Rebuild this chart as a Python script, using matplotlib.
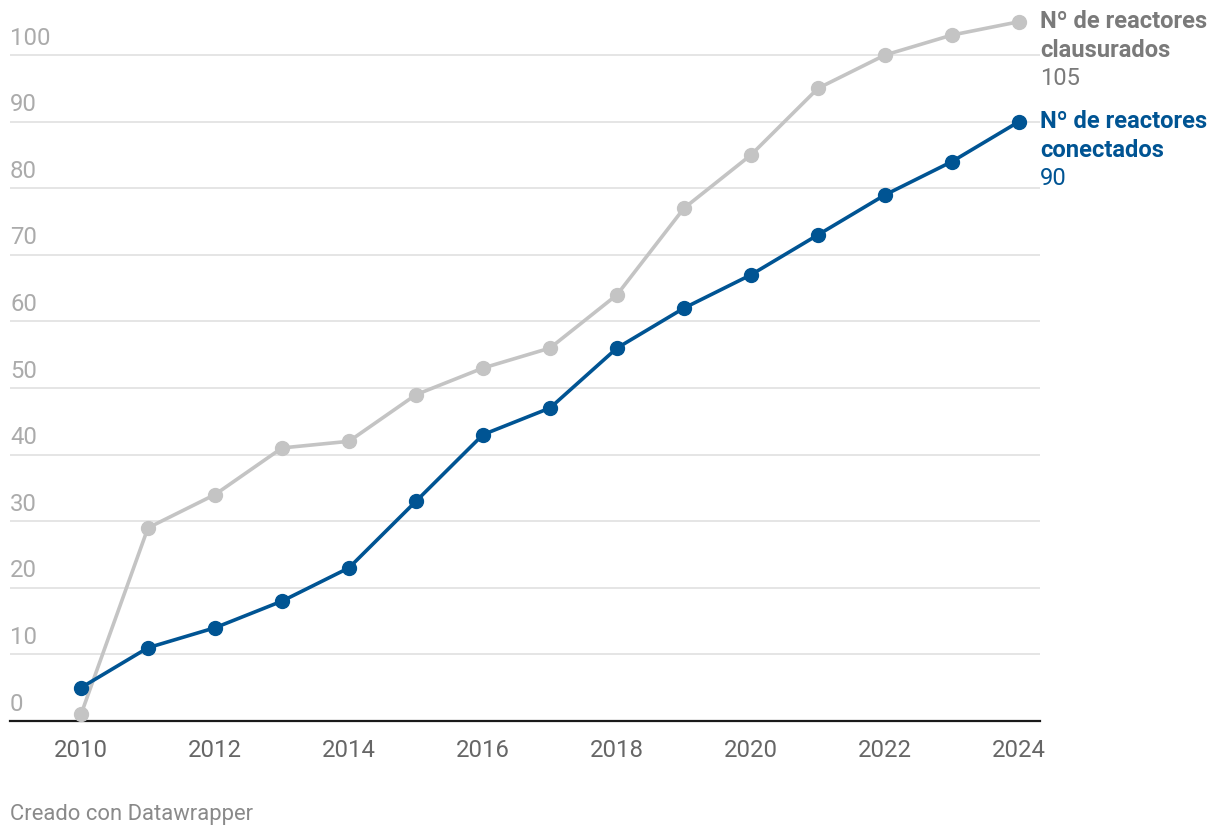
import matplotlib
matplotlib.use('Agg')
import matplotlib.pyplot as plt

plt.rcParams['font.family'] = ['Roboto', 'DejaVu Sans']

# data
years = list(range(2010, 2025))
clausurados = [1, 29, 34, 41, 42, 49, 53, 56, 64, 77, 85, 95, 100, 103, 105]
conectados = [5, 11, 14, 18, 23, 33, 43, 47, 56, 62, 67, 73, 79, 84, 90]
y_ticks = [0, 10, 20, 30, 40, 50, 60, 70, 80, 90, 100]
x_ticks = [2010, 2012, 2014, 2016, 2018, 2020, 2022, 2024]

gray = '#c4c4c4'
gray_txt = '#7a7a7a'
blue = '#005493'

W, H = 1220, 838
fig = plt.figure(figsize=(W/100, H/100), dpi=100)
ax = fig.add_axes([10/W, 1-721/H, 1030/W, 712.6/H])
ax.set_xlim(2010 - 71/67, 2024 + 21/67)
ax.set_ylim(0, 107)

for v in y_ticks[1:]:
    ax.axhline(v, color='#e3e3e3', lw=1.3, zorder=0)
for v in y_ticks:
    ax.annotate(str(v), xy=(0, v), xycoords=ax.get_yaxis_transform(),
                xytext=(0, 17), textcoords='offset pixels',
                ha='left', va='center', fontsize=17.2, color='#ababab')

ax.plot(years, clausurados, color=gray, lw=2.6, marker='o', ms=10,
        clip_on=False, zorder=3)
ax.plot(years, conectados, color=blue, lw=2.6, marker='o', ms=10,
        clip_on=False, zorder=4)

for series, label, c_bold, c_num in [(clausurados, 'clausurados', gray_txt, gray_txt),
                                     (conectados, 'conectados', blue, blue)]:
    xy = (years[-1], series[-1])
    ax.annotate('Nº de reactores', xy=xy, xytext=(21, 0), textcoords='offset pixels',
                ha='left', va='center', fontsize=17.1, fontweight='bold', color=c_bold,
                annotation_clip=False)
    ax.annotate(label, xy=xy, xytext=(21, -29), textcoords='offset pixels',
                ha='left', va='center', fontsize=17.1, fontweight='bold', color=c_bold,
                annotation_clip=False)
    ax.annotate(str(series[-1]), xy=xy, xytext=(21, -57), textcoords='offset pixels',
                ha='left', va='center', fontsize=17.1, color=c_num,
                annotation_clip=False)

ax.set_xticks(x_ticks)
ax.set_xticklabels([str(x) for x in x_ticks])
ax.set_yticks([])
ax.tick_params(axis='x', length=0, pad=13, labelsize=17.2, labelcolor='#666666')
for s in ['top', 'right', 'left']:
    ax.spines[s].set_visible(False)
ax.spines['bottom'].set_color('#1a1a1a')
ax.spines['bottom'].set_linewidth(1.6)
ax.spines['bottom'].set_zorder(2)

fig.text(10/W, 1-814/H, 'Creado con Datawrapper', ha='left', va='center',
         fontsize=15.8, color='#8a8a8a')

fig.savefig('out.png', dpi=100)
